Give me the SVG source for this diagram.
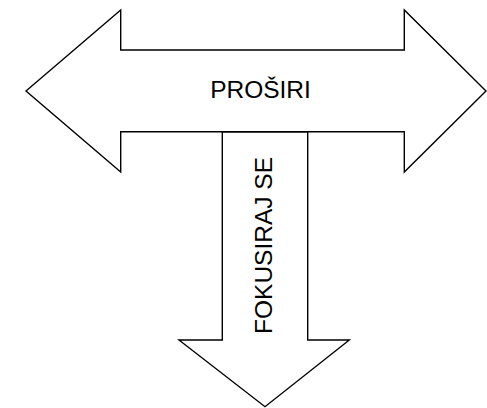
<svg xmlns="http://www.w3.org/2000/svg" width="487" height="408" viewBox="0 0 487 408">
  <style>
    .arrow { fill: #ffffff; stroke: #000000; stroke-width: 1.4; stroke-linejoin: miter; }
    .label { font-family: "Liberation Sans", Arial, sans-serif; font-size: 24.5px; fill: #000000; text-anchor: middle; }
  </style>
  <rect width="487" height="408" fill="#ffffff"/>
  <g id="connectors">
    <!-- downward arrow, drawn first so the wide arrow's edge stays on top -->
    <g id="focus-arrow">
      <path class="arrow" d="M222.3,131.7 L222.3,340 L179,340 L265,406.7 L349.3,340 L307.7,340 L307.7,131.7 Z"/>
      <text class="label" transform="translate(271.7,245.5) rotate(-90)">FOKUSIRAJ SE</text>
    </g>
    <!-- double-headed horizontal arrow -->
    <g id="expand-arrow">
      <path class="arrow" d="M26,91 L120.7,10 L120.7,50 L404.3,50 L404.3,10 L486,91 L404.3,172 L404.3,131.7 L120.7,131.7 L120.7,172 Z"/>
      <text class="label" x="260.5" y="97.5">PROŠIRI</text>
    </g>
  </g>
</svg>
